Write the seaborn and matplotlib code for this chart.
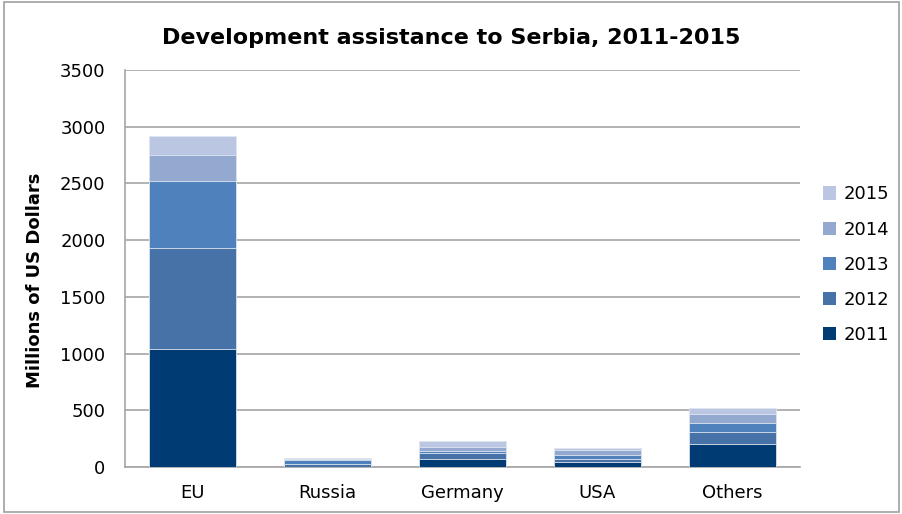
import matplotlib
matplotlib.use("Agg")
import matplotlib.pyplot as plt
import seaborn as sns
import numpy as np
import pandas as pd
from matplotlib.patches import Rectangle, Patch

# datos (millones de USD)
donantes = ["EU", "Russia", "Germany", "USA", "Others"]
anios = ["2011", "2012", "2013", "2014", "2015"]
v2011 = [1040, 3, 67, 41, 203]
v2012 = [891, 25, 56, 32, 102]
v2013 = [591, 30, 21, 35, 86]
v2014 = [229, 12, 29, 38, 73]
v2015 = [168, 10, 56, 22, 59]
colores = ["#003b73", "#4672a7", "#4f81bd", "#94a9d0", "#bac6e2"]

df = pd.DataFrame({"donante": donantes, "2011": v2011, "2012": v2012,
                   "2013": v2013, "2014": v2014, "2015": v2015})
# acumulados para apilar
acum = df[anios].cumsum(axis=1)

sns.set_style("white")
plt.rcParams["font.family"] = ["DejaVu Sans"]
plt.rcParams["text.color"] = "black"

fig = plt.figure(figsize=(9.03, 5.14), dpi=100)
ax = fig.add_axes([0.1384, 0.0914, 0.7476, 0.7724])

# dibujar del mas alto al mas bajo
for anio, col in reversed(list(zip(anios, colores))):
    sns.barplot(x=df["donante"], y=acum[anio], color=col, width=0.65,
                saturation=1, edgecolor="#dfe6f0", linewidth=0.6, ax=ax, zorder=3)

ax.set_ylim(0, 3500)
ax.set_yticks(np.arange(0, 3501, 500))
ax.set_yticklabels(["0", "500", "1000", "1500", "2000", "2500", "3000", "3500"])
ax.yaxis.grid(True, color="#a6a6a6", linewidth=1.2, zorder=0)
ax.set_axisbelow(True)
ax.tick_params(axis="y", length=0, pad=14, labelsize=13, colors="black")
ax.tick_params(axis="x", length=0, pad=12, labelsize=13, colors="black")
ax.set_xlabel("")
ax.set_ylabel("Millions of US Dollars", fontsize=13, fontweight="bold", color="black")
ax.yaxis.set_label_coords(-0.12, 0.47)
for s in ["top", "right"]:
    ax.spines[s].set_visible(False)
for s in ["left", "bottom"]:
    ax.spines[s].set_color("#a6a6a6")
    ax.spines[s].set_linewidth(1.2)

fig.suptitle("Development assistance to Serbia, 2011-2015", fontsize=16,
             fontweight="bold", x=0.5, y=0.945, color="black")

# leyenda 2015 arriba
handles = [Patch(facecolor=c, edgecolor="none") for c in reversed(colores)]
fig.legend(handles, list(reversed(anios)), loc="center left",
           bbox_to_anchor=(0.893, 0.485), frameon=False, fontsize=13,
           handlelength=0.75, handleheight=0.75, handletextpad=0.4,
           labelspacing=0.95)

# borde exterior
fig.patches.append(Rectangle((0.004, 0.004), 0.992, 0.992, transform=fig.transFigure,
                             fill=False, edgecolor="#a0a0a0", linewidth=1.2))

fig.savefig("out.png", dpi=100)
